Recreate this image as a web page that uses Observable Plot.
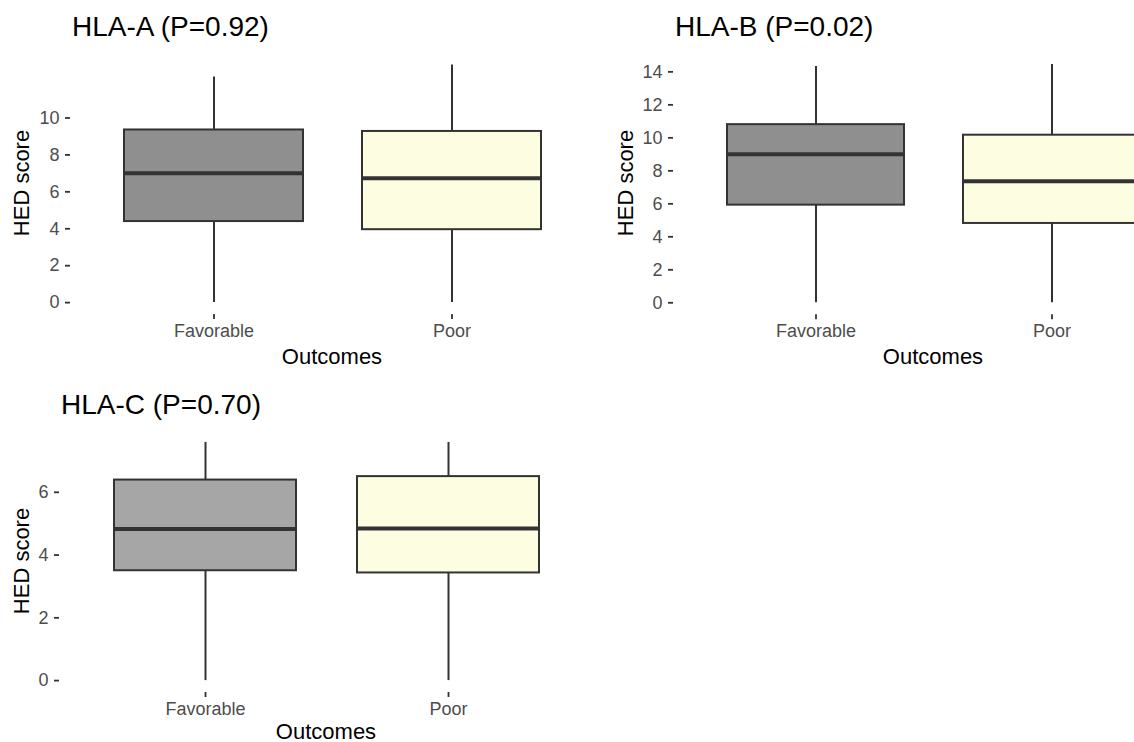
<!DOCTYPE html>
<html><head><meta charset="utf-8">
<script src="https://cdn.jsdelivr.net/npm/d3@7"></script>
<script src="https://cdn.jsdelivr.net/npm/@observablehq/plot@0.6"></script>
<style>
html,body{margin:0;padding:0;background:#fff}
body{width:1134px;height:742px;overflow:hidden;position:relative;font-family:"Liberation Sans",Arial,Helvetica,sans-serif}
.t{position:absolute;white-space:nowrap;color:#000;line-height:1}
.title{font-size:28px}
.axt{font-size:22px;transform:translate(-50%,-50%)}
.rot{transform:translate(-50%,-50%) rotate(-90deg)}
.panel{position:absolute}
</style></head><body>
<script>
// ---- data ----
const outcomes = ["Favorable", "Poor"];
const fillsAB = ["#8f8f8f", "#fdfde2"];
const fillsC = ["#a6a6a6", "#fdfde2"];

const titleA = "HLA-A (P=0.92)";
const lowA = [0, 0];
const q1A = [4.39, 3.95];
const medA = [7.0, 6.74];
const q3A = [9.35, 9.27];
const highA = [12.22, 12.87];
const ticksA = [0, 2, 4, 6, 8, 10];

const titleB = "HLA-B (P=0.02)";
const lowB = [0, 0];
const q1B = [5.92, 4.81];
const medB = [9.0, 7.37];
const q3B = [10.8, 10.16];
const highB = [14.32, 14.44];
const ticksB = [0, 2, 4, 6, 8, 10, 12, 14];

const titleC = "HLA-C (P=0.70)";
const lowC = [0, 0];
const q1C = [3.5, 3.43];
const medC = [4.83, 4.85];
const q3C = [6.39, 6.5];
const highC = [7.59, 7.59];
const ticksC = [0, 2, 4, 6];

const yLabel = "HED score";
const xLabel = "Outcomes";

// ---- drawing ----
function table(lo, q1, med, q3, hi) {
  return outcomes.map((o, i) => ({outcome: o, lo: lo[i], q1: q1[i], med: med[i], q3: q3[i], hi: hi[i]}));
}

function panel({data, ticks, fills, left, top, width, height, mLeft, mRight, mTop, mBottom}) {
  const maxV = d3.max(data, d => d.hi), minV = d3.min(data, d => d.lo);
  const pad = (maxV - minV) * 0.05;
  const chart = Plot.plot({
    width, height,
    marginLeft: mLeft, marginRight: mRight, marginTop: mTop, marginBottom: mBottom,
    style: {fontFamily: '"Liberation Sans", Arial, Helvetica, sans-serif', background: "transparent", overflow: "visible"},
    x: {domain: outcomes, paddingInner: 0.25, paddingOuter: 0.225, align: 0.5},
    y: {domain: [minV - pad, maxV + pad]},
    color: {domain: outcomes, range: fills},
    marks: [
      Plot.ruleX(data, {x: "outcome", y1: "lo", y2: "hi", stroke: "#333", strokeWidth: 2}),
      Plot.barY(data, {x: "outcome", y1: "q1", y2: "q3", fill: "outcome", stroke: "#333", strokeWidth: 2}),
      Plot.tickY(data, {x: "outcome", y: "med", stroke: "#333", strokeWidth: 4}),
      Plot.axisY(ticks, {tickSize: 5, tickPadding: 6, fontSize: 18, color: "#4d4d4d", stroke: "#333", strokeWidth: 1.8, label: null}),
      Plot.axisX(outcomes, {tickSize: 5, tickPadding: 5, fontSize: 18, color: "#4d4d4d", stroke: "#333", strokeWidth: 1.8, label: null})
    ]
  });
  chart.classList.add("panel");
  chart.style.left = left + "px";
  chart.style.top = top + "px";
  document.body.appendChild(chart);
}

function text(str, cls, x, y) {
  const d = document.createElement("div");
  d.className = "t " + cls;
  d.textContent = str;
  d.style.left = x + "px";
  d.style.top = y + "px";
  document.body.appendChild(d);
}

panel({data: table(lowA, q1A, medA, q3A, highA), ticks: ticksA, fills: fillsAB,
  left: 0, top: 40, width: 600, height: 335, mLeft: 70, mRight: 6, mTop: 12.6, mBottom: 61});
panel({data: table(lowB, q1B, medB, q3B, highB), ticks: ticksB, fills: fillsAB,
  left: 600, top: 40, width: 600, height: 335, mLeft: 73, mRight: 6, mTop: 12.2, mBottom: 60.8});
panel({data: table(lowC, q1C, medC, q3C, highC), ticks: ticksC, fills: fillsC,
  left: 0, top: 418, width: 600, height: 335, mLeft: 59, mRight: 6, mTop: 12, mBottom: 61});

text(titleA, "title", 72, 13);
text(titleB, "title", 675, 13);
text(titleC, "title", 61, 391);

text(yLabel, "axt rot", 22, 183);
text(yLabel, "axt rot", 626, 183);
text(yLabel, "axt rot", 22, 561);

text(xLabel, "axt", 332, 357);
text(xLabel, "axt", 933, 357);
text(xLabel, "axt", 326, 732);
</script>
</body></html>
